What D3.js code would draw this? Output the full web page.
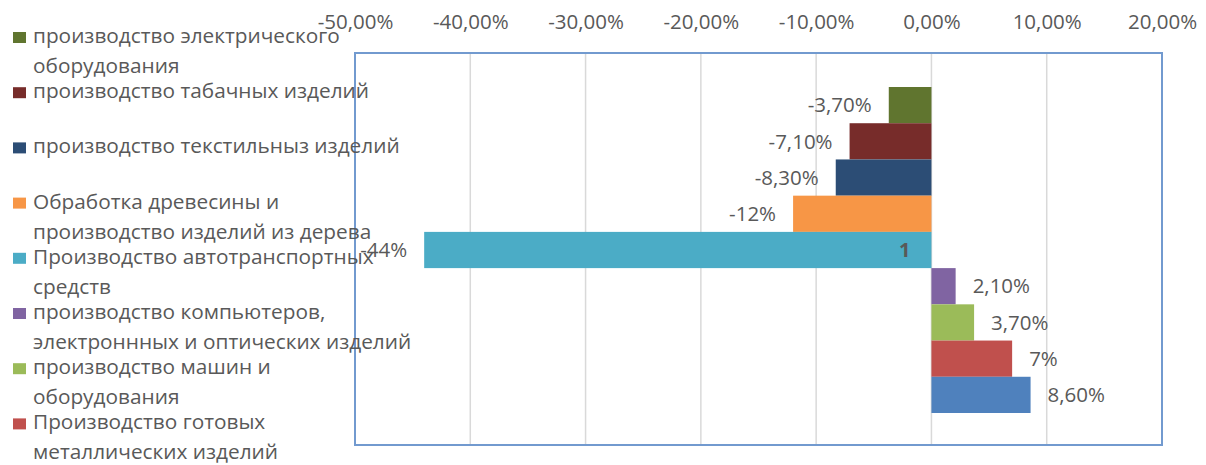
<!DOCTYPE html>
<html>
<head>
<meta charset="utf-8">
<script src="https://cdn.jsdelivr.net/npm/d3@7/dist/d3.min.js"></script>
<style>
  html, body { margin: 0; padding: 0; background: #fff; }
  svg { display: block; }
  text { font-family: "Open Sans", "Noto Sans", sans-serif; fill: #595959; }
</style>
</head>
<body>
<svg id="chart" width="1206" height="465"></svg>
<script>
// ---- data ----
const categories = [
  "производство электрического оборудования",
  "производство табачных изделий",
  "производство текстильныз изделий",
  "Обработка древесины и производство изделий из дерева",
  "Производство автотранспортных средств",
  "производство компьютеров, электроннных и оптических изделий",
  "производство машин и оборудования",
  "Производство готовых металлических изделий",
  ""
];
const legendLines = [
  ["производство электрического", "оборудования"],
  ["производство табачных изделий"],
  ["производство текстильныз изделий"],
  ["Обработка древесины и", "производство изделий из дерева"],
  ["Производство автотранспортных", "средств"],
  ["производство компьютеров,", "электроннных и оптических изделий"],
  ["производство машин и", "оборудования"],
  ["Производство готовых", "металлических изделий"]
];
const values = [-3.7, -7.1, -8.3, -12, -44, 2.1, 3.7, 7, 8.6];
const valueLabels = ["-3,70%", "-7,10%", "-8,30%", "-12%", "-44%", "2,10%", "3,70%", "7%", "8,60%"];
const colors = ["#60752f", "#772c2a", "#2c4d75", "#f79646", "#4bacc6", "#8064a2", "#9bbb59", "#c0504d", "#4f81bd"];
const tickValues = [-50, -40, -30, -20, -10, 0, 10, 20];
const tickLabels = ["-50,00%", "-40,00%", "-30,00%", "-20,00%", "-10,00%", "0,00%", "10,00%", "20,00%"];
const categoryLabel = "1";

// ---- layout ----
const plot = { left: 355, right: 1162, top: 53, bottom: 445 };
const svg = d3.select("#chart");

const x = d3.scaleLinear().domain([-50, 20]).range([plot.left, plot.right]);
const y = d3.scaleBand().domain(d3.range(values.length)).range([87, 413]).padding(0);

// gridlines
svg.append("g")
  .selectAll("line")
  .data(tickValues)
  .join("line")
  .attr("x1", d => x(d)).attr("x2", d => x(d))
  .attr("y1", plot.top).attr("y2", plot.bottom)
  .attr("stroke", "#d9d9d9").attr("stroke-width", 1.5);

// top axis labels
const axis = d3.axisTop(x).tickValues(tickValues)
  .tickFormat((d, i) => tickLabels[i]).tickSize(0).tickPadding(0);
const ax = svg.append("g").attr("transform", "translate(0,29)").call(axis);
ax.select(".domain").remove();
ax.selectAll("text").attr("font-size", 20.5).attr("dy", 0)
  .style("font-family", "'Open Sans', sans-serif").attr("fill", "#595959");

// bars
svg.append("g")
  .selectAll("rect")
  .data(values)
  .join("rect")
  .attr("x", d => x(Math.min(0, d)))
  .attr("width", d => Math.abs(x(d) - x(0)))
  .attr("y", (d, i) => y(i))
  .attr("height", y.bandwidth())
  .attr("fill", (d, i) => colors[i]);

// value labels
svg.append("g")
  .selectAll("text")
  .data(values)
  .join("text")
  .attr("x", d => d < 0 ? x(d) - 17 : x(d) + 17)
  .attr("y", (d, i) => y(i) + y.bandwidth() / 2)
  .attr("dy", "0.35em")
  .attr("text-anchor", d => d < 0 ? "end" : "start")
  .attr("font-size", 20.5)
  .text((d, i) => valueLabels[i]);

// category label
svg.append("text")
  .attr("x", x(0) - 21)
  .attr("y", (y(0) + y(values.length - 1) + y.bandwidth()) / 2)
  .attr("dy", "0.35em")
  .attr("text-anchor", "end")
  .attr("font-size", 20)
  .attr("font-weight", "bold")
  .text(categoryLabel);

// plot border
svg.append("rect")
  .attr("x", plot.left).attr("y", plot.top)
  .attr("width", plot.right - plot.left).attr("height", plot.bottom - plot.top)
  .attr("fill", "none").attr("stroke", "#729acf").attr("stroke-width", 2);

// legend
const leg = svg.append("g");
const entryStep = 55.2, base0 = 43, lineStep = 30;
legendLines.forEach((lines, i) => {
  const by = base0 + i * entryStep;
  leg.append("rect")
    .attr("x", 13).attr("y", by - 11)
    .attr("width", 13).attr("height", 11)
    .attr("fill", colors[i]);
  lines.forEach((ln, j) => {
    leg.append("text")
      .attr("x", 33).attr("y", by + j * lineStep)
      .attr("font-size", 20.8)
      .text(ln);
  });
});
</script>
</body>
</html>
